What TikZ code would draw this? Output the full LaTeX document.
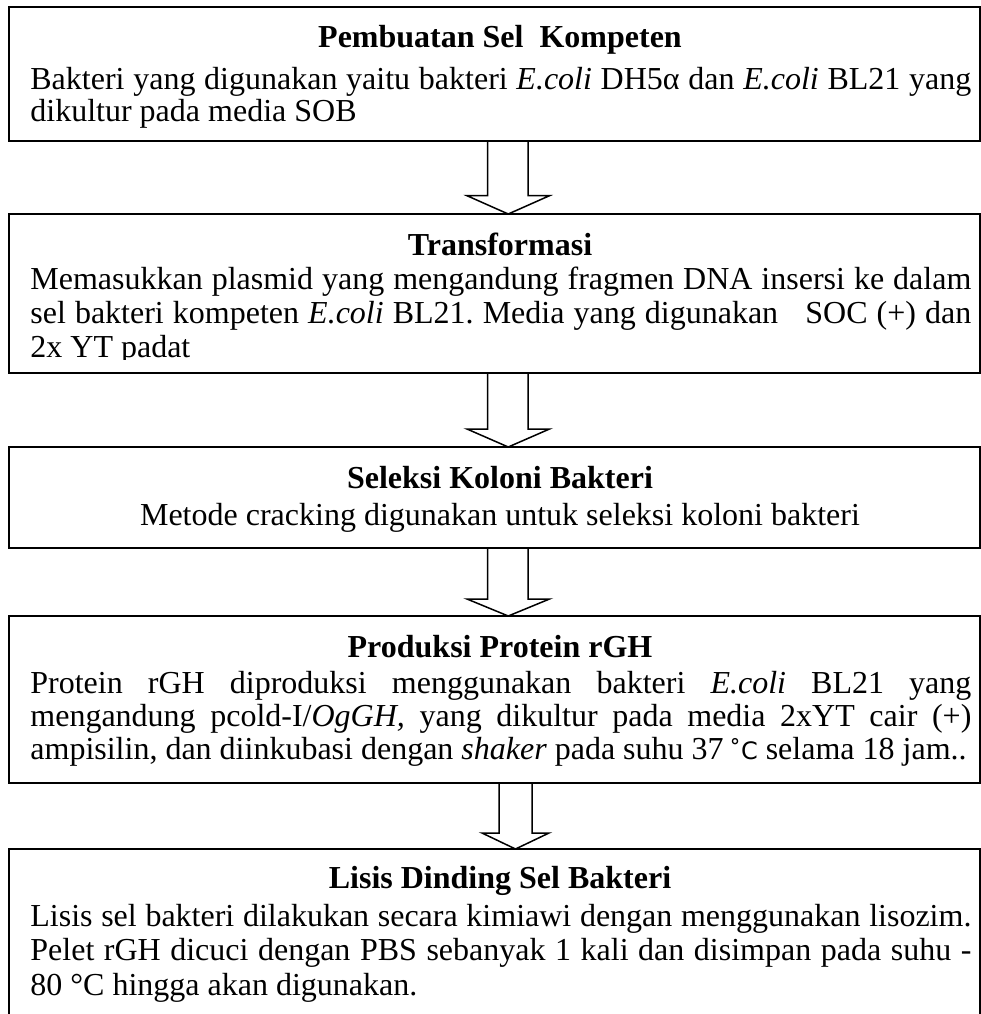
\documentclass[tikz,border=0pt]{standalone}
\usepackage{fontspec}
\setmainfont{Liberation Serif}
\newfontfamily\symfont{DejaVu Sans}
\frenchspacing
\tikzset{
  box/.style={draw, line width=0.8pt, inner sep=0pt, outer sep=0pt, anchor=north west, minimum width=485.5pt},
  ttl/.style={anchor=base, inner sep=0pt, font=\fontsize{16pt}{16pt}\selectfont\bfseries},
  txt/.style={anchor=base west, inner sep=0pt, font=\fontsize{16pt}{16pt}\selectfont\frenchspacing},
  ctxt/.style={anchor=base, inner sep=0pt, font=\fontsize{16pt}{16pt}\selectfont},
  arrowline/.style={line width=0.75pt, line join=miter},
}
\newcommand\fullline[1]{\makebox[470.5pt][s]{#1}}
% #1 upper node, #2 lower node, #3 shaft left x, #4 shaft right x, #5 head left x, #6 head right x, #7 head top y, #8 tip x
\newcommand\flowarrow[8]{%
  \draw[arrowline] (#3,0 |- #1.south) -- (#3,#7) -- (#5,#7) -- (#8,0 |- #2.north) -- (#6,#7) -- (#4,#7) -- (#4,0 |- #1.south);}
\begin{document}
\begin{tikzpicture}[x=0.5pt,y=-0.5pt]
\clip (0,0) rectangle (981,1014);

% boxes
\node[box, minimum height=67pt]   (b1) at (9,7)   {};
\node[box, minimum height=79.5pt] (b2) at (9,214) {};
\node[box, minimum height=50.5pt] (b3) at (9,447) {};
\node[box, minimum height=83.5pt] (b4) at (9,616) {};
\node[box, minimum height=100pt]  (b5) at (9,849) {};

% box 1
\node[ttl] (t1) at (500,47) {Pembuatan Sel\ \ Kompeten};
\node[txt] (l11) at (30,89) {\fullline{Bakteri yang digunakan yaitu bakteri \textit{E.coli} DH5α dan \textit{E.coli} BL21 yang}};
\node[txt] (l12) at (30,121) {dikultur pada media SOB};

% box 2
\node[ttl] (t2) at (500,255) {Transformasi};
\node[txt] (l21) at (30,289) {\fullline{Memasukkan plasmid yang mengandung fragmen DNA insersi ke dalam}};
\node[txt] (l22) at (30,323) {\fullline{sel bakteri kompeten \textit{E.coli} BL21. Media yang digunakan\ \ \ SOC (+) dan}};
\begin{scope}
  \clip (9,214) rectangle (980,359.5);
  \node[txt] (l23) at (30,357) {2x YT padat};
\end{scope}

% box 3
\node[ttl] (t3) at (500,488) {Seleksi Koloni Bakteri};
\node[ctxt] (l31) at (500,525) {Metode cracking digunakan untuk seleksi koloni bakteri};

% box 4
\node[ttl] (t4) at (500,657) {Produksi Protein rGH};
\node[txt] (l41) at (30,693) {\fullline{Protein rGH diproduksi menggunakan bakteri \textit{E.coli} BL21 yang}};
\node[txt] (l42) at (30,726) {\fullline{mengandung pcold-I/\textit{OgGH,} yang dikultur pada media 2xYT cair (+)}};
\node[txt] (l43) at (30,759) {ampisilin, dan diinkubasi dengan \textit{shaker} pada suhu 37\,{\symfont\fontsize{12pt}{12pt}\selectfont ˚C} selama 18 jam..};

% box 5
\node[ttl] (t5) at (500,888) {Lisis Dinding Sel Bakteri};
\node[txt] (l51) at (30,926) {\fullline{Lisis sel bakteri dilakukan secara kimiawi dengan menggunakan lisozim.}};
\node[txt] (l52) at (30,960) {\fullline{Pelet rGH dicuci dengan PBS sebanyak 1 kali dan disimpan pada suhu -}};
\node[txt] (l53) at (30,995) {80 °C hingga akan digunakan.};

% arrows
\flowarrow{b1}{b2}{487.5}{528}{467}{549.5}{195.7}{508.25}
\flowarrow{b2}{b3}{487.5}{528}{467}{549.5}{429}{508.25}
\flowarrow{b3}{b4}{487.5}{528}{467}{549.5}{599}{508.25}
\flowarrow{b4}{b5}{499}{532}{482}{549}{833}{515.5}
\end{tikzpicture}
\end{document}
